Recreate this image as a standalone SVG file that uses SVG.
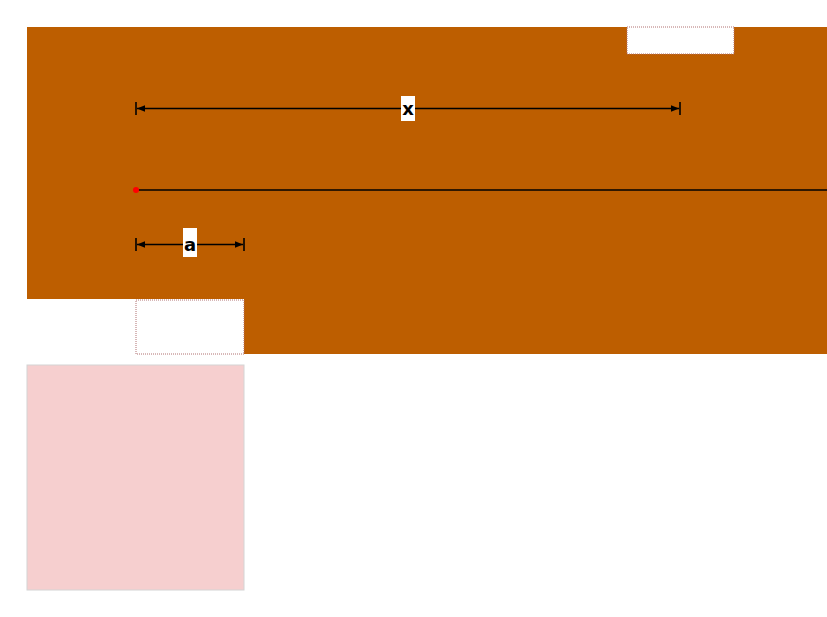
<svg xmlns="http://www.w3.org/2000/svg" width="827" height="617" viewBox="0 0 827 617">
<style>
.dim{stroke:#000;stroke-width:1.6;fill:none}
.tick{stroke:#000;stroke-width:1.6}
.lbl{font-family:"DejaVu Sans","Liberation Sans",sans-serif;font-weight:bold;font-size:18px;fill:#000;text-anchor:middle}
.lblbg{fill:#fff}
.hole{fill:#fff;stroke:#b07070;stroke-width:1;stroke-dasharray:1 1}
</style>
<defs>
<marker id="ah" viewBox="0 0 10 10" refX="10" refY="5" markerWidth="9" markerHeight="8" markerUnits="userSpaceOnUse" orient="auto-start-reverse">
<path d="M0,1 L10,5 L0,9 Z" fill="#000"/>
</marker>
</defs>
<rect width="827" height="617" fill="#fff"/>
<g id="plate">
<polygon points="27,27 827,27 827,354 244,354 244,299 27,299" fill="#bd5e00"/>
</g>
<g id="topbox">
<rect class="hole" x="627" y="27" width="107" height="27"/>
</g>
<g id="lowerbox">
<rect class="hole" x="136" y="300" width="108" height="54"/>
</g>
<g id="pinkbox">
<rect x="27" y="365" width="217" height="225" fill="#f6cfcf" stroke="#d4d4d4" stroke-width="1"/>
</g>
<g id="connectors">
<line class="dim" x1="137" y1="108.5" x2="679" y2="108.5" marker-start="url(#ah)" marker-end="url(#ah)"/>
<line class="tick" x1="136" y1="102" x2="136" y2="115"/>
<line class="tick" x1="680" y1="102" x2="680" y2="115"/>
<line x1="136" y1="190" x2="827" y2="190" stroke="#000" stroke-width="1.6"/>
<circle cx="136" cy="190" r="3" fill="#f00"/>
<line class="dim" x1="137" y1="244.5" x2="243" y2="244.5" marker-start="url(#ah)" marker-end="url(#ah)"/>
<line class="tick" x1="136" y1="238" x2="136" y2="251"/>
<line class="tick" x1="244" y1="238" x2="244" y2="251"/>
</g>
<g id="label-x">
<rect class="lblbg" x="401" y="96" width="14" height="25"/>
<text class="lbl" x="408" y="115">x</text>
</g>
<g id="label-a">
<rect class="lblbg" x="183" y="228" width="14" height="29"/>
<text class="lbl" x="190" y="251">a</text>
</g>
</svg>
